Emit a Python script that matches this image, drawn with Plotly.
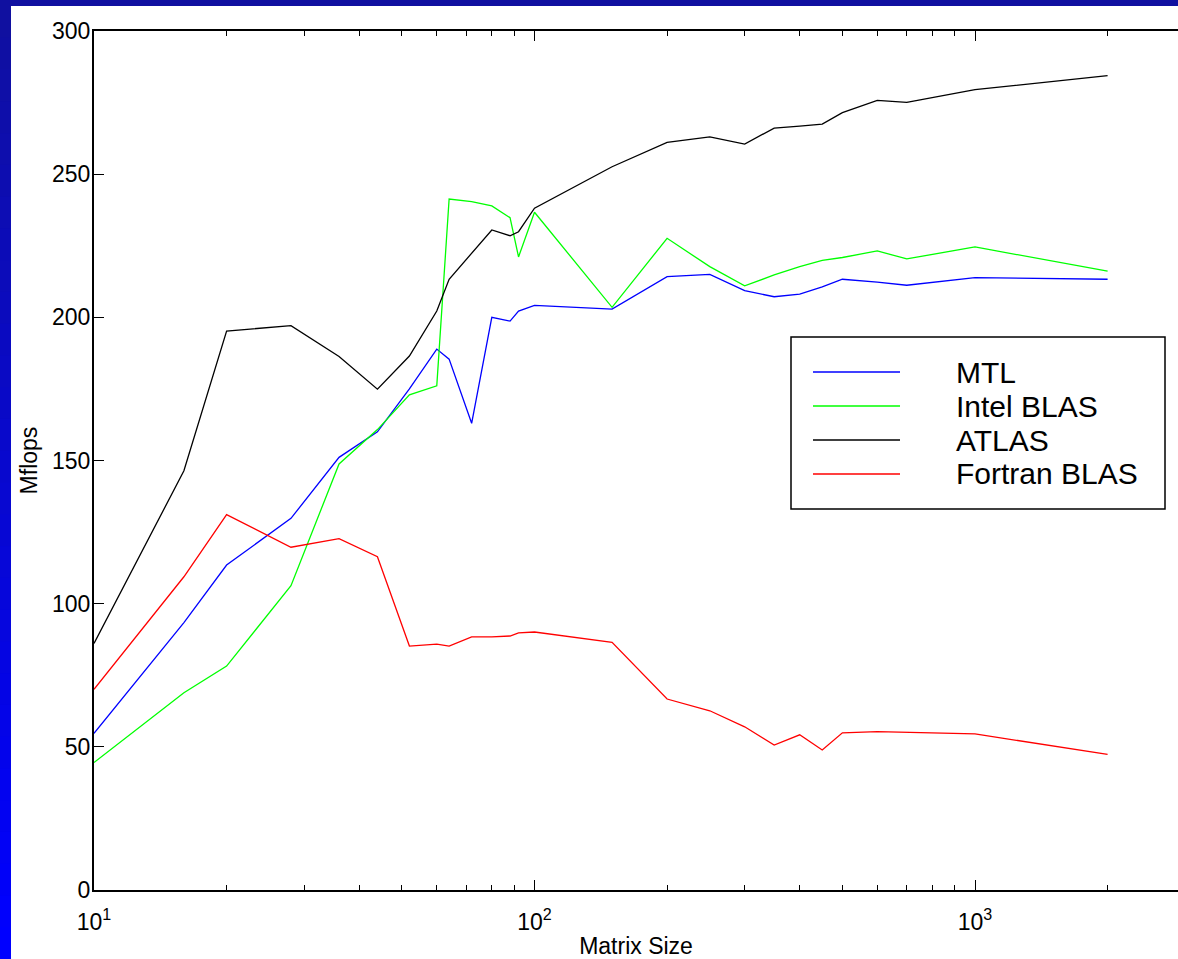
import plotly.graph_objects as go

# ---- data ----
matrix_size = [10, 16, 20, 28, 36, 44, 52, 60, 64, 72, 80, 88, 92, 100,
               150, 200, 250, 300, 350, 400, 450, 500, 600, 700, 1000, 2000]
mtl = [54.7, 93.4, 113.5, 129.8, 151.1, 160.0, 175.0, 188.9, 185.4, 163.0,
       200.0, 198.7, 202.2, 204.2, 202.9, 214.2, 215.0, 209.3, 207.2, 208.1,
       210.6, 213.3, 212.3, 211.2, 213.9, 213.3]
intel_blas = [44.5, 68.9, 78.2, 106.3, 148.8, 160.8, 172.9, 176.1, 241.3, 240.4,
              238.9, 234.8, 221.1, 236.7, 203.5, 227.6, 217.7, 211.0, 214.8, 217.7,
              219.9, 220.9, 223.2, 220.4, 224.6, 216.1]
atlas = [86.1, 146.4, 195.2, 197.1, 186.3, 174.9, 186.5, 202.2, 213.3, 222.4,
         230.5, 228.5, 229.9, 238.1, 252.6, 261.1, 263.0, 260.5, 266.1, 266.8,
         267.5, 271.5, 275.8, 275.1, 279.5, 284.4]
fortran_blas = [70.1, 109.4, 131.1, 119.7, 122.7, 116.4, 85.2, 85.9, 85.2, 88.4,
                88.4, 88.7, 89.8, 90.1, 86.5, 66.7, 62.6, 57.0, 50.6, 54.2,
                48.9, 54.9, 55.3, 55.0, 54.5, 47.4]

series_names = ["MTL", "Intel BLAS", "ATLAS", "Fortran BLAS"]
series_values = [mtl, intel_blas, atlas, fortran_blas]
series_colors = ["#0000ff", "#00ff00", "#000000", "#ff0000"]

y_ticks = [0, 50, 100, 150, 200, 250, 300]
x_major = [10, 100, 1000]
x_major_text = ["10<sup>1</sup>", "10<sup>2</sup>", "10<sup>3</sup>"]
x_minor = [20, 30, 40, 50, 60, 70, 80, 90, 200, 300, 400, 500, 600, 700, 800, 900, 2000]

# ---- layout geometry ----
W, H = 1178, 959
L, R, T, B = 94, 0, 31, 69
PW, PH = W - L - R, H - T - B


def px2x(px):
    return (px - L) / PW


def py2y(py):
    return (T + PH - py) / PH


FONT = "Liberation Sans, Arial, Helvetica, sans-serif"

fig = go.Figure()
for name, vals, col in zip(series_names, series_values, series_colors):
    fig.add_trace(go.Scatter(x=matrix_size, y=vals, mode="lines", name=name,
                             line=dict(color=col, width=1.3), showlegend=False))

shapes = []
# blue frame: top band and left gradient strip
top_col = (16, 16, 160)
bot_col = (0, 0, 255)
shapes.append(dict(type="rect", xref="paper", yref="paper", layer="below",
                   x0=px2x(0), x1=px2x(W), y0=py2y(6), y1=py2y(0),
                   line=dict(width=0), fillcolor="rgb(16,16,160)"))
N = 30
for i in range(N):
    f = i / (N - 1)
    c = tuple(int(round(top_col[k] + (bot_col[k] - top_col[k]) * f)) for k in range(3))
    ya = 6 + (H - 6) * i / N
    yb = 6 + (H - 6) * (i + 1) / N + 1
    shapes.append(dict(type="rect", xref="paper", yref="paper", layer="below",
                       x0=px2x(0), x1=px2x(11), y0=py2y(yb), y1=py2y(ya),
                       line=dict(width=0), fillcolor="rgb(%d,%d,%d)" % c))

# legend box
shapes.append(dict(type="rect", xref="paper", yref="paper",
                   x0=px2x(791), x1=px2x(1165), y0=py2y(509), y1=py2y(337),
                   line=dict(color="black", width=1.5), fillcolor="white"))
annotations = []
row_y = [372, 406, 440, 474]
for name, col, ry in zip(series_names, series_colors, row_y):
    shapes.append(dict(type="line", xref="paper", yref="paper",
                       x0=px2x(813), x1=px2x(900), y0=py2y(ry), y1=py2y(ry),
                       line=dict(color=col, width=1.3)))
    annotations.append(dict(xref="paper", yref="paper", x=px2x(954), y=py2y(ry),
                            text=name, showarrow=False, xanchor="left", yanchor="middle",
                            font=dict(family=FONT, size=30, color="black")))

fig.update_layout(
    width=W, height=H,
    margin=dict(l=L, r=R, t=T, b=B, pad=0, autoexpand=False),
    paper_bgcolor="white", plot_bgcolor="white",
    font=dict(family=FONT, color="black"),
    shapes=shapes, annotations=annotations,
    showlegend=False,
    xaxis=dict(type="log", range=[1, 1 + PW / 440.5],
               tickmode="array", tickvals=x_major, ticktext=x_major_text,
               ticks="inside", ticklen=10, tickwidth=1, tickcolor="black",
               minor=dict(tickmode="array", tickvals=x_minor, ticks="inside",
                          ticklen=5, tickwidth=1, tickcolor="black", showgrid=False),
               showline=True, linecolor="black", linewidth=2, mirror="allticks",
               showgrid=False, zeroline=False, ticklabelstandoff=10, automargin=False,
               tickfont=dict(size=23, family=FONT, color="black"),
               title=dict(text="Matrix Size", font=dict(size=23, family=FONT, color="black"),
                          standoff=11)),
    yaxis=dict(range=[0, 300], tickmode="array", tickvals=y_ticks,
               ticks="inside", ticklen=10, tickwidth=1, tickcolor="black",
               showline=True, linecolor="black", linewidth=2, automargin=False,
               showgrid=False, zeroline=False, ticklabelstandoff=-3,
               tickfont=dict(size=23, family=FONT, color="black"),
               title=dict(text="Mflops", font=dict(size=23, family=FONT, color="black"),
                          standoff=8)),
    yaxis2=dict(overlaying="y", side="right", anchor="x", range=[0, 300],
                tickmode="array", tickvals=y_ticks, ticks="inside", ticklen=4,
                tickwidth=1, tickcolor="black", showticklabels=False, automargin=False,
                showline=False, showgrid=False, zeroline=False),
)

fig.write_html("out.html", config={"displayModeBar": False},
               post_script="document.body.style.margin='0px';document.body.style.overflow='hidden';")
